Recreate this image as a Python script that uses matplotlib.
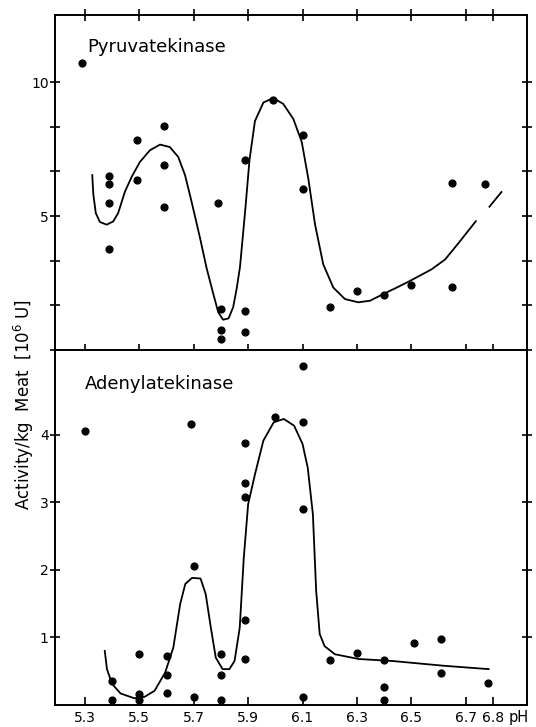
import matplotlib.pyplot as plt

# ---- data ----
pk_ph = [5.29, 5.39, 5.39, 5.39, 5.39, 5.49, 5.49, 5.59, 5.59, 5.59,
         5.79, 5.80, 5.80, 5.80, 5.89, 5.89, 5.89, 5.99, 6.10, 6.10,
         6.20, 6.30, 6.40, 6.50, 6.65, 6.65, 6.77]
pk_act = [10.72, 6.49, 6.18, 5.50, 3.78, 7.86, 6.34, 8.36, 6.90, 5.35,
          5.50, 1.52, 0.73, 0.40, 7.11, 1.44, 0.67, 9.32, 8.01, 6.02,
          1.62, 2.20, 2.04, 2.43, 6.22, 2.36, 6.18]

# hand-drawn trend line, traced
pk_curve_ph = [5.327, 5.331, 5.340, 5.355, 5.380, 5.404, 5.422, 5.447, 5.472, 5.502,
               5.539, 5.576, 5.612, 5.643, 5.668, 5.692, 5.723, 5.747, 5.772, 5.790,
               5.808, 5.828, 5.845, 5.858, 5.870, 5.890, 5.905, 5.925, 5.956, 5.992,
               6.029, 6.066, 6.097, 6.121, 6.146, 6.176, 6.213, 6.256, 6.305, 6.348,
               6.397, 6.446, 6.495, 6.574, 6.624, 6.674, 6.737]
pk_curve_act = [6.53, 5.80, 5.11, 4.78, 4.68, 4.80, 5.11, 5.91, 6.47, 7.02,
                7.46, 7.67, 7.58, 7.21, 6.53, 5.54, 4.19, 3.07, 2.09, 1.41,
                1.13, 1.18, 1.60, 2.30, 3.10, 5.30, 7.10, 8.55, 9.24, 9.41,
                9.19, 8.63, 7.77, 6.41, 4.68, 3.20, 2.33, 1.90, 1.78, 1.84,
                2.09, 2.33, 2.58, 3.01, 3.38, 4.00, 4.81]
pk_slash_ph = [6.787, 6.831]
pk_slash_act = [5.35, 5.90]

ak_ph = [5.30, 5.40, 5.40, 5.50, 5.50, 5.50, 5.60, 5.60, 5.60,
         5.69, 5.70, 5.70, 5.80, 5.80, 5.80,
         5.89, 5.89, 5.89, 5.89, 5.89, 6.00,
         6.10, 6.10, 6.10, 6.10, 6.20, 6.30,
         6.40, 6.40, 6.40, 6.51, 6.61, 6.61, 6.78]
ak_act = [4.05, 0.36, 0.07, 0.76, 0.16, 0.08, 0.73, 0.45, 0.17,
          4.16, 2.06, 0.12, 0.76, 0.45, 0.07,
          3.88, 3.28, 3.08, 1.26, 0.68, 4.26,
          5.01, 4.18, 2.90, 0.12, 0.67, 0.77,
          0.66, 0.27, 0.07, 0.91, 0.97, 0.48, 0.32]

ak_curve_ph = [5.373, 5.381, 5.40, 5.431, 5.481, 5.519, 5.556, 5.595, 5.625, 5.65,
               5.669, 5.694, 5.725, 5.744, 5.763, 5.781, 5.806, 5.831, 5.85, 5.869,
               5.884, 5.90, 5.925, 5.956, 5.994, 6.031, 6.069, 6.10, 6.119, 6.138,
               6.15, 6.163, 6.181, 6.219, 6.306, 6.431, 6.619, 6.784]
ak_curve_act = [0.80, 0.53, 0.31, 0.17, 0.10, 0.12, 0.21, 0.48, 0.85, 1.49,
                1.79, 1.88, 1.87, 1.64, 1.14, 0.70, 0.53, 0.53, 0.65, 1.14,
                2.18, 2.97, 3.41, 3.91, 4.18, 4.23, 4.13, 3.86, 3.51, 2.82,
                1.69, 1.05, 0.87, 0.75, 0.68, 0.65, 0.58, 0.53]

x_ticks = [5.3, 5.5, 5.7, 5.9, 6.1, 6.3, 6.5, 6.7, 6.8]
x_labels = ["5.3", "5.5", "5.7", "5.9", "6.1", "6.3", "6.5", "6.7", "6.8"]
pk_yticks = [0, 5 / 3, 10 / 3, 5, 20 / 3, 25 / 3, 10]
pk_ylabels = ["", "", "", "5", "", "", "10"]
ak_yticks = [1, 2, 3, 4]

plt.rcParams['font.family'] = ['DejaVu Sans']
plt.rcParams['axes.linewidth'] = 1.4

fig = plt.figure(figsize=(5.36, 7.27), dpi=100)
left, width = 0.1026, 0.8806
ax1 = fig.add_axes([left, 0.5186, width, 0.4604])
ax2 = fig.add_axes([left, 0.0303, width, 0.4883])

for ax in (ax1, ax2):
    ax.set_xlim(5.19, 6.925)
    ax.set_xticks(x_ticks)
    ax.tick_params(axis="both", which="both", width=1.2, labelsize=10)
    ax.tick_params(axis="y", left=True, right=True, direction="inout", length=7, pad=1)
    ax.tick_params(axis="x", top=True, bottom=True, direction="in", length=6)

# top panel
ax1.scatter(pk_ph, pk_act, s=24, color="black", zorder=3)
ax1.plot(pk_curve_ph, pk_curve_act, color="black", lw=1.3)
ax1.plot(pk_slash_ph, pk_slash_act, color="black", lw=1.3)
ax1.set_ylim(0, 12.5)
ax1.set_yticks(pk_yticks)
ax1.set_yticklabels(pk_ylabels)
ax1.tick_params(axis="x", bottom=True, direction="inout", length=8, labelbottom=False)
ax1.text(5.31, 11.3, "Pyruvatekinase", fontsize=13, va="center", ha="left")

# bottom panel
ax2.scatter(ak_ph, ak_act, s=24, color="black", zorder=3, clip_on=False)
ax2.plot(ak_curve_ph, ak_curve_act, color="black", lw=1.3)
ax2.set_ylim(0, 5.25)
ax2.set_yticks(ak_yticks)
ax2.set_yticklabels([str(v) for v in ak_yticks])
ax2.set_xticklabels(x_labels)
ax2.tick_params(axis="x", top=False, pad=4)
ax2.text(5.30, 4.75, "Adenylatekinase", fontsize=13, va="center", ha="left")

fig.text(0.987, 0.0135, "pH", fontsize=10.5, ha="right", va="center")
fig.text(0.045, 0.443, "Activity/kg  Meat  [10$^6$ U]", rotation=90,
         fontsize=12, ha="center", va="center")

fig.savefig("out.png", dpi=100)
